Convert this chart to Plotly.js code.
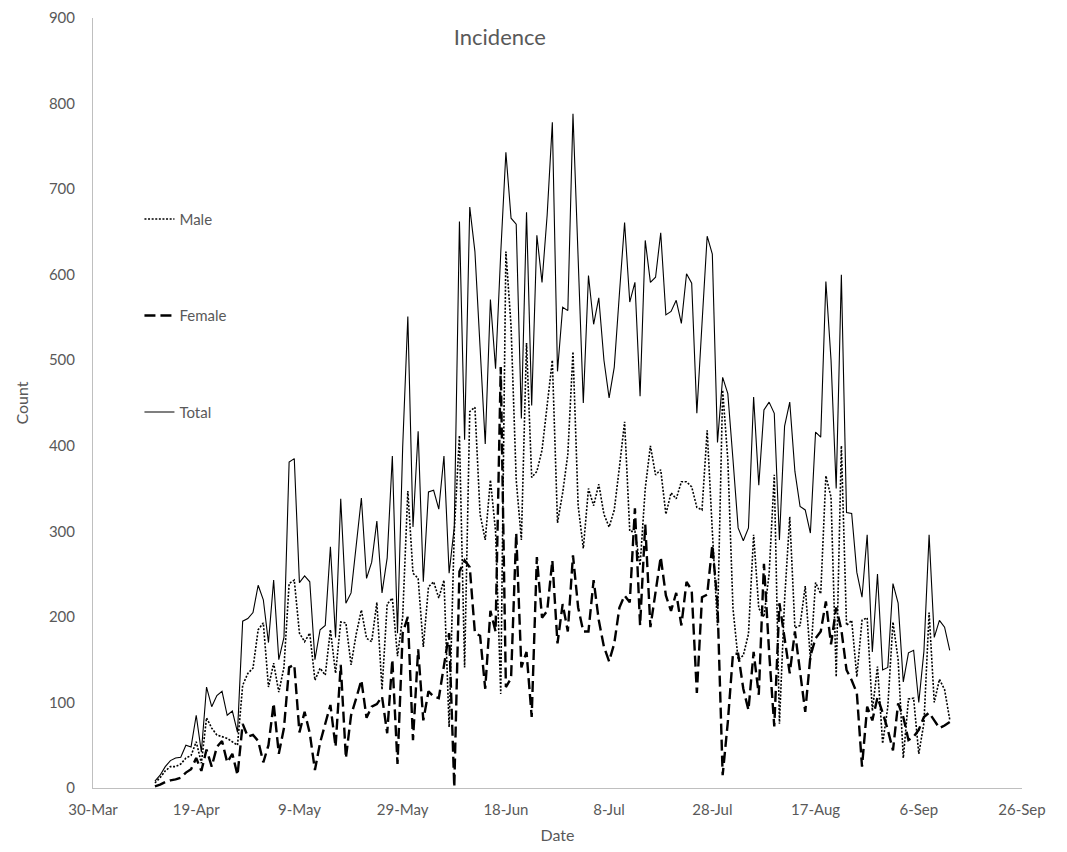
<!DOCTYPE html>
<html>
<head>
<meta charset="utf-8">
<script src="https://cdn.plot.ly/plotly-3.0.1.min.js"></script>
<style>
html,body{margin:0;padding:0;background:#fff;}
#chart{width:1067px;height:852px;}
</style>
</head>
<body>
<div id="chart"></div>
<script>
// First day of the daily series
const startDate = '2020-04-11';

// Daily counts (11-Apr .. 12-Sep)
const totalCounts = [
  8, 15, 25, 32, 35, 36, 50, 48, 85, 42,
  118, 95, 108, 113, 85, 90, 65, 195, 198, 205,
  237, 220, 170, 243, 150, 176, 381, 385, 240, 248,
  241, 150, 185, 190, 282, 176, 338, 216, 228, 282,
  339, 245, 264, 312, 228, 269, 388, 181, 398, 551,
  305, 417, 241, 346, 348, 326, 388, 251, 305, 662,
  407, 679, 627, 515, 402, 571, 490, 625, 743, 666,
  659, 432, 673, 447, 646, 591, 670, 778, 487, 562,
  558, 788, 620, 450, 599, 542, 573, 500, 456, 492,
  578, 661, 568, 591, 458, 640, 591, 597, 649, 553,
  557, 570, 543, 601, 590, 438, 543, 645, 624, 404,
  480, 461, 384, 304, 289, 304, 457, 354, 442, 451,
  438, 290, 423, 451, 370, 329, 325, 298, 416, 410,
  592, 500, 350, 600, 322, 321, 252, 223, 296, 159,
  250, 138, 141, 239, 216, 124, 158, 161, 100, 160,
  296, 176, 196, 188, 161
];

const femaleCounts = [
  2, 4, 7, 9, 10, 12, 18, 22, 35, 20,
  45, 25, 48, 55, 30, 40, 15, 75, 60, 62,
  55, 30, 50, 99, 40, 70, 141, 144, 65, 89,
  64, 21, 53, 76, 97, 48, 144, 35, 85, 105,
  126, 82, 95, 98, 107, 64, 150, 28, 181, 200,
  56, 162, 79, 113, 107, 105, 145, 181, 1, 253,
  266, 258, 181, 178, 116, 207, 183, 492, 118, 128,
  298, 141, 159, 83, 270, 199, 207, 266, 169, 215,
  183, 272, 211, 183, 183, 243, 196, 165, 148, 169,
  211, 225, 217, 327, 190, 308, 188, 232, 270, 225,
  207, 228, 190, 241, 231, 111, 223, 226, 284, 216,
  15, 77, 157, 157, 116, 91, 159, 109, 262, 159,
  72, 216, 173, 134, 183, 139, 89, 154, 175, 183,
  218, 168, 211, 185, 138, 126, 111, 25, 95, 79,
  106, 88, 68, 44, 99, 83, 56, 60, 68, 83,
  88, 79, 70, 73, 77
];

const maleCounts = [
  6, 12, 20, 25, 25, 28, 35, 38, 54, 29,
  82, 70, 62, 60, 58, 54, 50, 120, 134, 140,
  185, 193, 118, 146, 112, 141, 239, 243, 181, 171,
  181, 126, 140, 132, 185, 134, 194, 193, 144, 180,
  208, 175, 171, 217, 115, 215, 222, 154, 200, 347,
  251, 245, 165, 235, 241, 222, 243, 71, 300, 412,
  141, 440, 445, 320, 290, 360, 300, 110, 627, 540,
  360, 290, 520, 363, 370, 395, 450, 500, 310, 345,
  390, 510, 330, 280, 350, 330, 355, 320, 305, 325,
  375, 428, 300, 300, 260, 350, 400, 366, 372, 320,
  345, 338, 358, 358, 352, 328, 325, 418, 300, 190,
  465, 384, 210, 150, 155, 180, 296, 210, 200, 250,
  366, 75, 220, 317, 187, 190, 236, 150, 240, 227,
  365, 340, 130, 400, 190, 196, 130, 196, 199, 90,
  142, 52, 95, 194, 150, 35, 104, 105, 40, 76,
  205, 100, 127, 115, 80
];

// Axis settings
const xStart = '2020-03-30';
const xEnd = '2020-09-26';
const tickDays = 20;
const yMax = 900;
const yStep = 100;

function dayList(start, n) {
  const out = [];
  const base = new Date(start + 'T00:00:00Z');
  for (let i = 0; i < n; i++) {
    const d = new Date(base.getTime() + i * 86400000);
    out.push(d.toISOString().slice(0, 10));
  }
  return out;
}
const dates = dayList(startDate, totalCounts.length);

const grey = '#595959';
const fontFam = 'Lato, "Open Sans", "Liberation Sans", sans-serif';

const traces = [
  {x: dates, y: maleCounts, name: 'Male', type: 'scatter', mode: 'lines',
   legendgroup: 'm', line: {color: '#000', width: 1.6, dash: '2px,1.6px'}},
  {x: dates, y: femaleCounts, name: 'Female', type: 'scatter', mode: 'lines',
   legendgroup: 'f', line: {color: '#000', width: 2.4, dash: '11px,5px'}},
  {x: dates, y: totalCounts, name: 'Total', type: 'scatter', mode: 'lines',
   legendgroup: 't', line: {color: '#000', width: 1.1}}
];

const layout = {
  width: 1067, height: 852,
  margin: {l: 93, r: 45, t: 18, b: 64},
  paper_bgcolor: '#fff', plot_bgcolor: '#fff',
  font: {family: fontFam, size: 15, color: grey},
  title: {text: 'Incidence', font: {family: fontFam, size: 22, color: grey},
          x: 0.438, xref: 'paper', xanchor: 'center', y: 0.956, yanchor: 'middle'},
  xaxis: {
    type: 'date', range: [xStart, xEnd],
    tick0: xStart, dtick: tickDays * 86400000, tickformat: '%-d-%b',
    showgrid: false, zeroline: false, showline: true, linecolor: '#bfbfbf', linewidth: 1,
    ticks: '', ticklabelstandoff: 8,
    tickfont: {family: fontFam, size: 15, color: grey},
    title: {text: 'Date', font: {family: fontFam, size: 16, color: grey}, standoff: 12}
  },
  yaxis: {
    range: [0, yMax], dtick: yStep, tick0: 0,
    showgrid: false, zeroline: false, showline: true, linecolor: '#bfbfbf', linewidth: 1,
    ticks: '', ticklabelstandoff: 14,
    tickfont: {family: fontFam, size: 15, color: grey},
    title: {text: 'Count', font: {family: fontFam, size: 16, color: grey}, standoff: 16}
  },
  showlegend: true,
  legend: {
    x: 0.05, y: 0.76, xanchor: 'left', yanchor: 'top',
    bgcolor: 'rgba(0,0,0,0)', borderwidth: 0,
    font: {family: fontFam, size: 15, color: grey},
    tracegroupgap: 74, traceorder: 'grouped'
  }
};

Plotly.newPlot('chart', traces, layout, {displayModeBar: false, staticPlot: true});
</script>
</body>
</html>
